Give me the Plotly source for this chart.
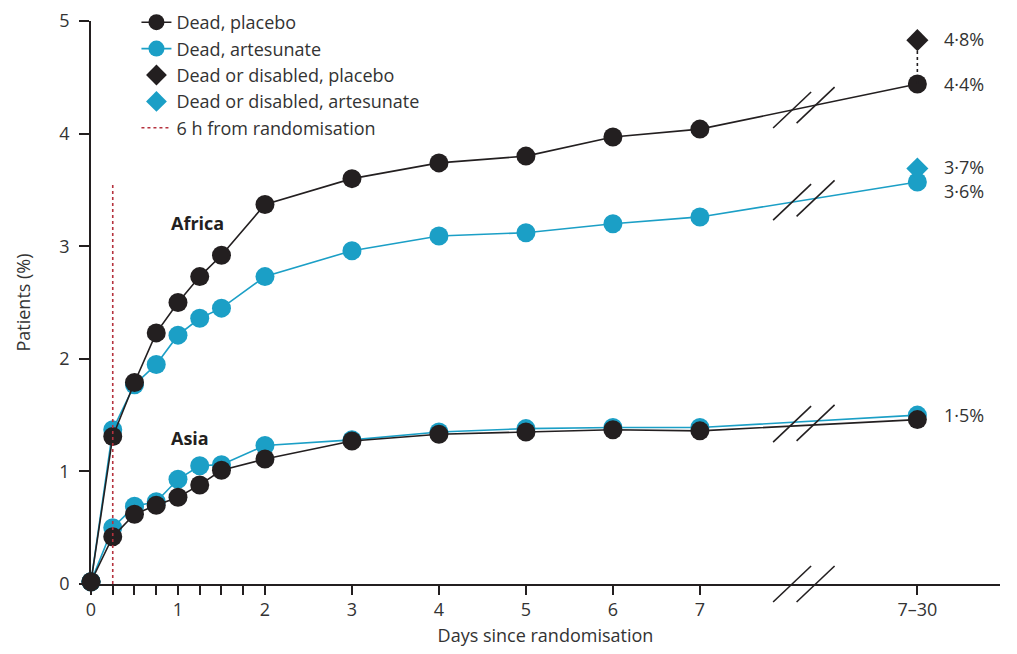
import plotly.graph_objects as go

# ---- data -------------------------------------------------------------
# x values: days since randomisation; 9.5 is the axis slot of the "7–30" category
days = [0, 0.25, 0.5, 0.75, 1, 1.25, 1.5, 2, 3, 4, 5, 6, 7, 9.5]
africa_placebo = [0.02, 1.31, 1.79, 2.23, 2.50, 2.73, 2.92, 3.37, 3.60, 3.74, 3.80, 3.97, 4.04, 4.44]
africa_artesunate = [0.02, 1.37, 1.77, 1.95, 2.21, 2.36, 2.45, 2.73, 2.96, 3.09, 3.12, 3.20, 3.26, 3.57]
asia_placebo = [0.02, 0.42, 0.62, 0.70, 0.77, 0.88, 1.01, 1.11, 1.27, 1.33, 1.35, 1.37, 1.36, 1.46]
asia_artesunate = [0.02, 0.50, 0.69, 0.73, 0.93, 1.05, 1.06, 1.23, 1.28, 1.35, 1.38, 1.39, 1.39, 1.50]
final_day = 9.5
dead_disabled_placebo = 4.83
dead_disabled_artesunate = 3.69
six_hours = 0.25
six_hours_top = 3.55

major_ticks = [0, 1, 2, 3, 4, 5, 6, 7, 9.5]
major_labels = ["0", "1", "2", "3", "4", "5", "6", "7", "7–30"]
minor_ticks = [0.25, 0.5, 0.75, 1.25, 1.5, 1.75]
y_ticks = [0, 1, 2, 3, 4, 5]
break_x = [8.06, 8.33]

BLACK = "#231f20"
BLUE = "#1b9fc6"
RED = "#b5323e"
FONT = "Open Sans"
TXT = "#333333"
FS = 18

W, H = 1017, 654
M_L, M_R, M_T, M_B = 83, 25, 13, 78
plot_h = H - M_T - M_B

fig = go.Figure()

def series(y, color, name, show, rank):
    fig.add_trace(go.Scatter(
        x=days, y=y, mode="lines+markers", name=name, showlegend=show,
        legendrank=rank, cliponaxis=False,
        line=dict(color=color, width=1.6),
        marker=dict(color=color, size=19, line=dict(width=0)),
    ))

series(asia_artesunate, BLUE, "Dead, artesunate", False, 2)
series(asia_placebo, BLACK, "Dead, placebo", False, 1)
series(africa_artesunate, BLUE, "Dead, artesunate", True, 2)
series(africa_placebo, BLACK, "Dead, placebo", True, 1)

# connector between dead and dead-or-disabled (placebo)
fig.add_trace(go.Scatter(
    x=[final_day, final_day], y=[africa_placebo[-1], dead_disabled_placebo],
    mode="lines", showlegend=False, line=dict(color=BLACK, width=1.6, dash="3px,3px"),
))

fig.add_trace(go.Scatter(
    x=[final_day], y=[dead_disabled_placebo], mode="markers", name="Dead or disabled, placebo",
    legendrank=3, cliponaxis=False,
    marker=dict(symbol="diamond", color=BLACK, size=17, line=dict(width=0)),
))
fig.add_trace(go.Scatter(
    x=[final_day], y=[dead_disabled_artesunate], mode="markers", name="Dead or disabled, artesunate",
    legendrank=4, cliponaxis=False,
    marker=dict(symbol="diamond", color=BLUE, size=17, line=dict(width=0)),
))
fig.add_trace(go.Scatter(
    x=[six_hours, six_hours], y=[0, six_hours_top], mode="lines", name="6 h from randomisation",
    legendrank=5, line=dict(color=RED, width=1.6, dash="3px,3px"),
))

# break marks on data lines
def interp(xv, ys):
    for i in range(len(days) - 1):
        if days[i] <= xv <= days[i + 1]:
            t = (xv - days[i]) / (days[i + 1] - days[i])
            return ys[i] + t * (ys[i + 1] - ys[i])
    return ys[-1]

asia_mid = [(a + b) / 2 for a, b in zip(asia_placebo, asia_artesunate)]
for ys in (africa_placebo, africa_artesunate, asia_mid):
    for bx in break_x:
        fig.add_shape(type="line", xref="x", yref="y", xsizemode="pixel", ysizemode="pixel",
                      xanchor=bx, yanchor=interp(bx, ys), x0=-19, x1=19, y0=-18, y1=18,
                      line=dict(color=BLACK, width=1.6))

# break marks on x axis
for bx in break_x:
    fig.add_shape(type="line", xref="x", yref="paper", xsizemode="pixel",
                  xanchor=bx, x0=-19, x1=19, y0=-18 / plot_h, y1=18 / plot_h,
                  line=dict(color=BLACK, width=1.6))

# region labels
fig.add_annotation(x=1.23, y=3.21, text="<b>Africa</b>", showarrow=False,
                   font=dict(family=FONT, size=FS, color=BLACK))
fig.add_annotation(x=1.14, y=1.30, text="<b>Asia</b>", showarrow=False,
                   font=dict(family=FONT, size=FS, color=BLACK))

# end value labels
def pct(v):
    return f"{v:.1f}%".replace(".", "·")

end_labels = [
    (dead_disabled_placebo, 1),
    (africa_placebo[-1], 0),
    (dead_disabled_artesunate, 2),
    (africa_artesunate[-1], -9),
    ((asia_placebo[-1] + asia_artesunate[-1]) / 2, 2),
]
for v, ys in end_labels:
    fig.add_annotation(x=final_day, y=v, text=pct(v), showarrow=False, xanchor="left",
                       xshift=25, yshift=ys, font=dict(family=FONT, size=FS, color=TXT))

fig.update_xaxes(
    range=[0, 10.45], showgrid=False, zeroline=False, showline=True,
    linecolor=BLACK, linewidth=1.6, ticks="outside", ticklen=9, tickwidth=1.6, tickcolor=BLACK,
    tickvals=major_ticks + minor_ticks, ticktext=major_labels + [""] * len(minor_ticks),
    tickfont=dict(family=FONT, size=FS, color=TXT), ticklabeloverflow="allow",
    title=dict(text="Days since randomisation", font=dict(family=FONT, size=FS, color=TXT), standoff=9),
)
fig.update_yaxes(
    range=[0, 5], showgrid=False, zeroline=False, showline=True,
    linecolor=BLACK, linewidth=1.6, ticks="outside", ticklen=10, tickwidth=1.6, tickcolor=BLACK,
    tickvals=y_ticks, tickfont=dict(family=FONT, size=FS, color=TXT), ticklabelstandoff=6,
    ticklabeloverflow="allow",
    title=dict(text="Patients (%)", font=dict(family=FONT, size=FS, color=TXT), standoff=24),
)

fig.update_layout(
    width=W, height=H, plot_bgcolor="white", paper_bgcolor="white",
    margin=dict(l=M_L, r=M_R, t=M_T, b=M_B, autoexpand=False),
    font=dict(family=FONT, color=TXT),
    legend=dict(x=0.05, y=1 + (M_T + 4) / plot_h, xanchor="left", yanchor="top",
                bgcolor="rgba(0,0,0,0)",
                font=dict(family=FONT, size=FS, color=TXT), tracegroupgap=0,
                traceorder="normal"),
)

fig.write_html("out.html")
